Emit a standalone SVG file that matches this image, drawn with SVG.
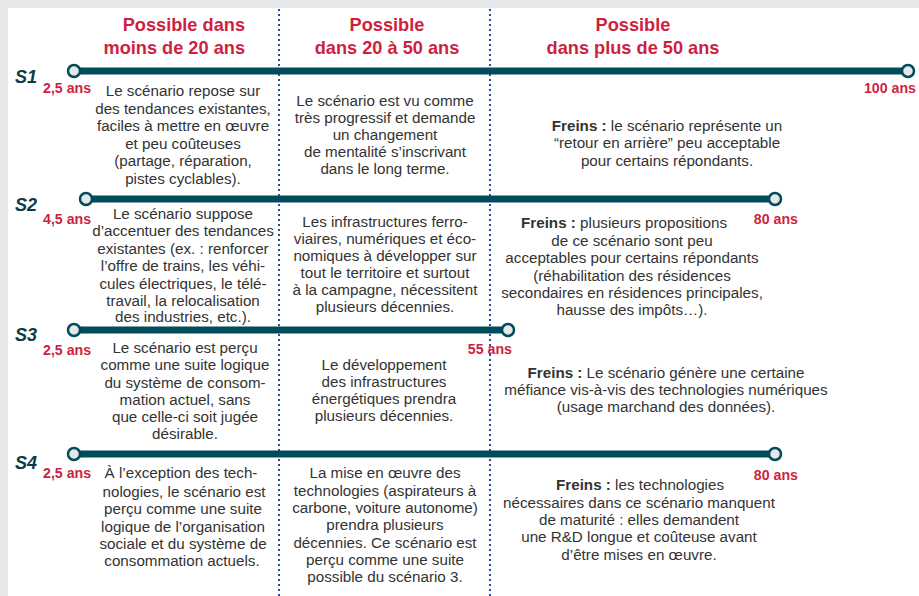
<svg xmlns="http://www.w3.org/2000/svg" width="919" height="596" viewBox="0 0 919 596">
<style>
.hd{font-family:"Liberation Sans",Arial,sans-serif;font-weight:700;font-size:18.2px;fill:#cf1f3f;text-anchor:middle}
.hd.r{text-anchor:end}
.tx{font-family:"Liberation Sans",Arial,sans-serif;font-size:15.2px;fill:#333333;text-anchor:middle}
.b{font-weight:700}
.yr{font-family:"Liberation Sans",Arial,sans-serif;font-weight:700;font-size:14.2px;fill:#cf1f3f}
.sl{font-family:"Liberation Sans",Arial,sans-serif;font-weight:700;font-style:italic;font-size:18px;fill:#0d3b45}
.tl{stroke:#014c5b;stroke-width:7;fill:none}
.dot{fill:#e6e7e9;stroke:#014c5b;stroke-width:2.5}
.sep{stroke:#2a4c9c;stroke-width:2;stroke-dasharray:2 3;fill:none}
</style>
<rect x="0" y="0" width="919" height="596" fill="#e6e7e9"/>
<rect x="8" y="8" width="911" height="588" fill="#ffffff"/>
<g id="headers">
<text class="hd r" x="245" y="31">Possible dans</text>
<text class="hd r" x="245" y="54">moins de 20 ans</text>
<text class="hd" x="387" y="31">Possible</text>
<text class="hd" x="387" y="54">dans 20 à 50 ans</text>
<text class="hd" x="633" y="31">Possible</text>
<text class="hd" x="633" y="54">dans plus de 50 ans</text>
</g>
<g id="connectors">
<line class="sep" x1="279" y1="9" x2="279" y2="596"/>
<line class="sep" x1="490" y1="9" x2="490" y2="596"/>
<line class="tl" x1="74" y1="71" x2="908" y2="71"/>
<line class="tl" x1="86" y1="199" x2="775" y2="199"/>
<line class="tl" x1="74" y1="330" x2="508" y2="330"/>
<line class="tl" x1="74" y1="454" x2="775" y2="454"/>
</g>
<g id="s1">
<circle class="dot" cx="74" cy="71" r="6"/>
<circle class="dot" cx="908" cy="71" r="6"/>
<text class="sl" x="15" y="83">S1</text>
<text class="yr" x="43" y="93">2,5 ans</text>
<text class="yr" x="916" y="93" text-anchor="end">100 ans</text>
<text class="tx"><tspan x="183" y="96">Le scénario repose sur</tspan><tspan x="183" y="113.5">des tendances existantes,</tspan><tspan x="183" y="131">faciles à mettre en œuvre</tspan><tspan x="183" y="148.5">et peu coûteuses</tspan><tspan x="183" y="166">(partage, réparation,</tspan><tspan x="183" y="183.5">pistes cyclables).</tspan></text>
<text class="tx"><tspan x="385" y="106">Le scénario est vu comme</tspan><tspan x="385" y="123">très progressif et demande</tspan><tspan x="385" y="140">un changement</tspan><tspan x="385" y="157">de mentalité s’inscrivant</tspan><tspan x="385" y="174">dans le long terme.</tspan></text>
<text class="tx"><tspan x="667" y="131"><tspan class="b">Freins :</tspan> le scénario représente un</tspan><tspan x="667" y="148">“retour en arrière” peu acceptable</tspan><tspan x="667" y="165.5">pour certains répondants.</tspan></text>
</g>
<g id="s2">
<circle class="dot" cx="86" cy="199" r="6"/>
<circle class="dot" cx="775" cy="199" r="6"/>
<text class="sl" x="15" y="211">S2</text>
<text class="yr" x="43" y="224">4,5 ans</text>
<text class="yr" x="798" y="224" text-anchor="end">80 ans</text>
<text class="tx"><tspan x="183" y="219">Le scénario suppose</tspan><tspan x="183" y="236">d’accentuer des tendances</tspan><tspan x="183" y="253.5">existantes (ex. : renforcer</tspan><tspan x="183" y="271">l’offre de trains, les véhi-</tspan><tspan x="183" y="288.5">cules électriques, le télé-</tspan><tspan x="183" y="305.5">travail, la relocalisation</tspan><tspan x="183" y="322">des industries, etc.).</tspan></text>
<text class="tx"><tspan x="385" y="227">Les infrastructures ferro-</tspan><tspan x="385" y="244">viaires, numériques et éco-</tspan><tspan x="385" y="261">nomiques à développer sur</tspan><tspan x="385" y="278">tout le territoire et surtout</tspan><tspan x="385" y="295">à la campagne, nécessitent</tspan><tspan x="385" y="312">plusieurs décennies.</tspan></text>
<text class="tx"><tspan x="624" y="228"><tspan class="b">Freins :</tspan> plusieurs propositions</tspan><tspan x="632" y="245.5">de ce scénario sont peu</tspan><tspan x="632" y="263">acceptables pour certains répondants</tspan><tspan x="632" y="280.5">(réhabilitation des résidences</tspan><tspan x="632" y="298">secondaires en résidences principales,</tspan><tspan x="632" y="315">hausse des impôts…).</tspan></text>
</g>
<g id="s3">
<circle class="dot" cx="74" cy="330" r="6"/>
<circle class="dot" cx="508" cy="330" r="6"/>
<text class="sl" x="15" y="341">S3</text>
<text class="yr" x="43" y="355">2,5 ans</text>
<text class="yr" x="512" y="354" text-anchor="end">55 ans</text>
<text class="tx"><tspan x="185" y="353">Le scénario est perçu</tspan><tspan x="185" y="370">comme une suite logique</tspan><tspan x="185" y="387.5">du système de consom-</tspan><tspan x="185" y="404.5">mation actuel, sans</tspan><tspan x="185" y="421.5">que celle-ci soit jugée</tspan><tspan x="185" y="438.5">désirable.</tspan></text>
<text class="tx"><tspan x="384" y="370">Le développement</tspan><tspan x="384" y="387">des infrastructures</tspan><tspan x="384" y="404">énergétiques prendra</tspan><tspan x="384" y="421">plusieurs décennies.</tspan></text>
<text class="tx"><tspan x="666" y="378"><tspan class="b">Freins :</tspan> Le scénario génère une certaine</tspan><tspan x="666" y="395">méfiance vis-à-vis des technologies numériques</tspan><tspan x="666" y="412">(usage marchand des données).</tspan></text>
</g>
<g id="s4">
<circle class="dot" cx="74" cy="454" r="6"/>
<circle class="dot" cx="775" cy="454" r="6"/>
<text class="sl" x="15" y="469">S4</text>
<text class="yr" x="43" y="478">2,5 ans</text>
<text class="yr" x="798" y="480" text-anchor="end">80 ans</text>
<text class="tx"><tspan x="181" y="478">À l’exception des tech-</tspan><tspan x="184" y="497">nologies, le scénario est</tspan><tspan x="183" y="514">perçu comme une suite</tspan><tspan x="183" y="531.5">logique de l’organisation</tspan><tspan x="183" y="549">sociale et du système de</tspan><tspan x="182" y="566">consommation actuels.</tspan></text>
<text class="tx"><tspan x="385" y="478">La mise en œuvre des</tspan><tspan x="385" y="495.5">technologies (aspirateurs à</tspan><tspan x="385" y="513">carbone, voiture autonome)</tspan><tspan x="385" y="530">prendra plusieurs</tspan><tspan x="385" y="547.5">décennies. Ce scénario est</tspan><tspan x="385" y="564.5">perçu comme une suite</tspan><tspan x="385" y="581.5">possible du scénario 3.</tspan></text>
<text class="tx"><tspan x="640" y="490"><tspan class="b">Freins :</tspan> les technologies</tspan><tspan x="639" y="507.5">nécessaires dans ce scénario manquent</tspan><tspan x="639" y="525">de maturité : elles demandent</tspan><tspan x="639" y="542">une R&amp;D longue et coûteuse avant</tspan><tspan x="639" y="559.5">d’être mises en œuvre.</tspan></text>
</g>
</svg>
